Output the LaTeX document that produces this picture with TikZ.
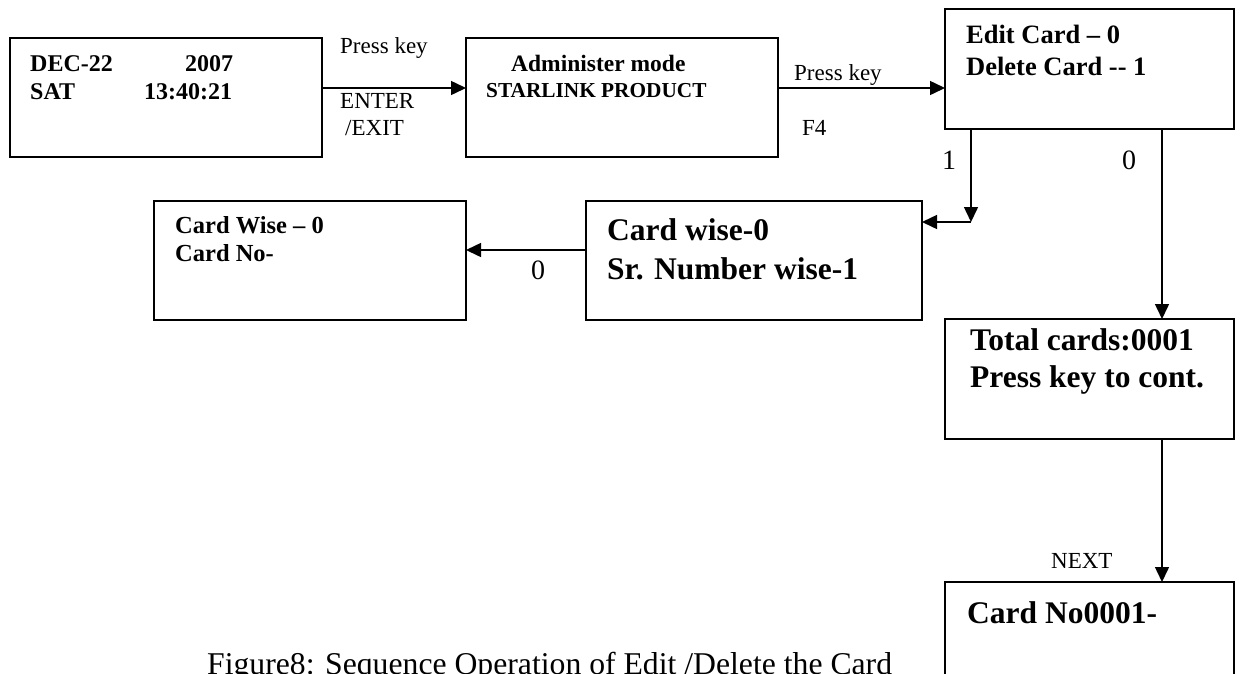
\documentclass[tikz,border=0pt]{standalone}
\usepackage{fontspec}
\setmainfont{Liberation Serif}
\usetikzlibrary{arrows.meta}
\begin{document}
\begin{tikzpicture}[x=1pt,y=-1pt,
  box/.style={draw,line width=1.8pt,inner sep=0pt,outer sep=0pt,anchor=north west},
  arr/.style={line width=1.5pt,-{Triangle[length=15pt,width=14pt]}},
  txt/.style={inner sep=0pt,anchor=base west},
  bA/.style={txt,font=\fontsize{24}{28}\selectfont\bfseries},
  bAd/.style={txt,font=\fontsize{23.5}{27}\selectfont\bfseries},
  bB/.style={txt,font=\fontsize{21.3}{26}\selectfont\bfseries},
  bC/.style={txt,font=\fontsize{26.5}{30}\selectfont\bfseries},
  bE/.style={txt,font=\fontsize{24.5}{28}\selectfont\bfseries},
  bD/.style={txt,font=\fontsize{31.5}{36}\selectfont\bfseries},
  rA/.style={txt,font=\fontsize{23}{27}\selectfont},
  rB/.style={txt,font=\fontsize{28}{32}\selectfont},
  captxt/.style={txt,font=\fontsize{31.7}{36}\selectfont}
]
\useasboundingbox (0,0) rectangle (1240,673);
\clip (0,0) rectangle (1240,673);

% boxes
\node[box,minimum width=312pt,minimum height=119pt] (b1) at (10,38) {};
\node[box,minimum width=312pt,minimum height=119pt] (b2) at (466,38) {};
\node[box,minimum width=289pt,minimum height=120pt] (b3) at (945,9) {};
\node[box,minimum width=336pt,minimum height=119pt] (b4) at (586,201) {};
\node[box,minimum width=312pt,minimum height=119pt] (b5) at (154,201) {};
\node[box,minimum width=289pt,minimum height=120pt] (b6) at (945,319) {};
\node[box,minimum width=289pt,minimum height=130pt] (b7) at (945,582) {};

% box texts
\node[bA] (t1a) at (30,71) {DEC-22};
\node[bA] (t1b) at (185,71) {2007};
\node[bA] (t1c) at (30,99) {SAT};
\node[bA] (t1d) at (144,99) {13:40:21};

\node[bAd] (t2a) at (511,71) {Administer mode};
\node[bB] (t2b) at (486,97) {STARLINK PRODUCT};

\node[bC] (t3a) at (966,43) {Edit Card – 0};
\node[bC] (t3b) at (966,75) {Delete Card -{}- 1};

\node[bD] (t4a) at (607,240) {Card wise-0};
\node[bD] (t4b) at (607,279) {Sr. Number wise-1};

\node[bE] (t5a) at (175,233) {Card Wise – 0};
\node[bE] (t5b) at (175,261) {Card No-};

\node[bD] (t6a) at (970,350) {Total cards:0001};
\node[bD] (t6b) at (970,387) {Press key to cont.};

\node[bD] (t7a) at (967,623) {Card No0001-};

% connector labels
\node[rA] (l1a) at (340,53) {Press key};
\node[rA] (l1b) at (340,108) {ENTER};
\node[rA] (l1c) at (345,135) {/EXIT};
\node[rA] (l2a) at (794,80) {Press key};
\node[rA] (l2b) at (802,135) {F4};
\node[rB] (l3a) at (942,169) {1};
\node[rB] (l3b) at (1122,169) {0};
\node[rB] (l4a) at (531,279) {0};
\node[rA] (l5a) at (1051,568) {NEXT};

% connectors
\draw[arr] ([yshift=9.5pt]b1.east) coordinate (s1) -- (s1 -| b2.west);
\draw[arr] ([yshift=9.5pt]b2.east) coordinate (s2) -- (s2 -| b3.west);
\coordinate (k1) at ([xshift=26pt]b3.south west);
\coordinate (k0) at ([yshift=-21pt]b4.north east);
\coordinate (k2) at (k1 |- k0);
\draw[arr] (k1) -- (k2);
\draw[arr] (k2) -- (k2 -| b4.east);
\draw[arr] ([yshift=10.5pt]b4.west) coordinate (s4) -- (s4 -| b5.east);
\draw[arr] ([xshift=217pt]b3.south west) coordinate (s5) -- (s5 |- b6.north);
\draw[arr] ([xshift=217pt]b6.south west) coordinate (s6) -- (s6 |- b7.north);

% caption (cut at the lower edge, as in the reference)
\node[captxt] (capt) at (207,674) {Figure8: Sequence Operation of Edit /Delete the Card};
\end{tikzpicture}
\end{document}
